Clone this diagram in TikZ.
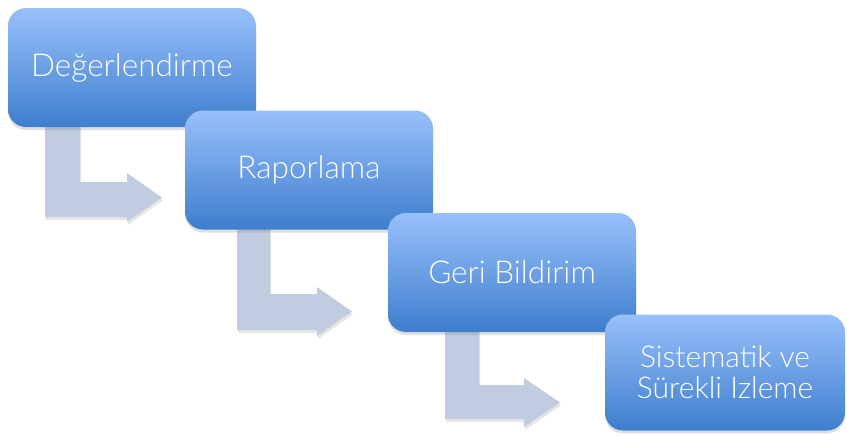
\documentclass[tikz,border=0pt]{standalone}
\usepackage{fontspec}
\setmainfont{Lato}[UprightFont=* Light]
\usetikzlibrary{shadows}
\definecolor{boxtop}{RGB}{152,192,250}
\definecolor{boxbot}{RGB}{62,126,206}
\definecolor{arrowfill}{RGB}{194,204,224}
\tikzset{
 stepbox/.style={rectangle,rounded corners=18pt,minimum width=248pt,minimum height=119pt,
  top color=boxtop,bottom color=boxbot,text=white,align=center,
  font=\fontsize{31.5}{32}\selectfont,
  drop shadow={shadow xshift=0pt,shadow yshift=-3pt,opacity=0.25}},
 flowarrow/.style={fill=arrowfill,drop shadow={shadow xshift=1pt,shadow yshift=-3pt,opacity=0.2}}
}
\begin{document}
\begin{tikzpicture}[x=1pt,y=-1pt]
 \useasboundingbox (0,0) rectangle (847,440);
 % bent arrows, drawn under the boxes
 \foreach \xa/\xb/\ytop/\ya/\yb/\xh/\xt/\yha/\yhb in {45/80/120/182/217/127/162/173/222,
   237/270/225/294/330/317/352/287/336, 445/479/328/385/419/524/560/378/427}
 \fill[flowarrow] (\xa,\ytop) -- (\xb,\ytop) -- (\xb,\ya) -- (\xh,\ya) -- (\xh,\yha)
  -- (\xt,{(\yha+\yhb)/2}) -- (\xh,\yhb) -- (\xh,\yb) -- (\xa,\yb) -- cycle;
 % steps
 \node[stepbox] (deger) at (132,67.5) {Değerlendirme};
 \node[stepbox] (rapor) at (309,170) {Raporlama};
 \node[stepbox] (geri) at (512,272.5) {Geri Bildirim};
 \node[stepbox,minimum width=240pt,minimum height=116pt,font=\fontsize{30}{31}\selectfont] (izleme) at (725,372.5) {Sistematik ve\\Sürekli Izleme};
\end{tikzpicture}
\end{document}
